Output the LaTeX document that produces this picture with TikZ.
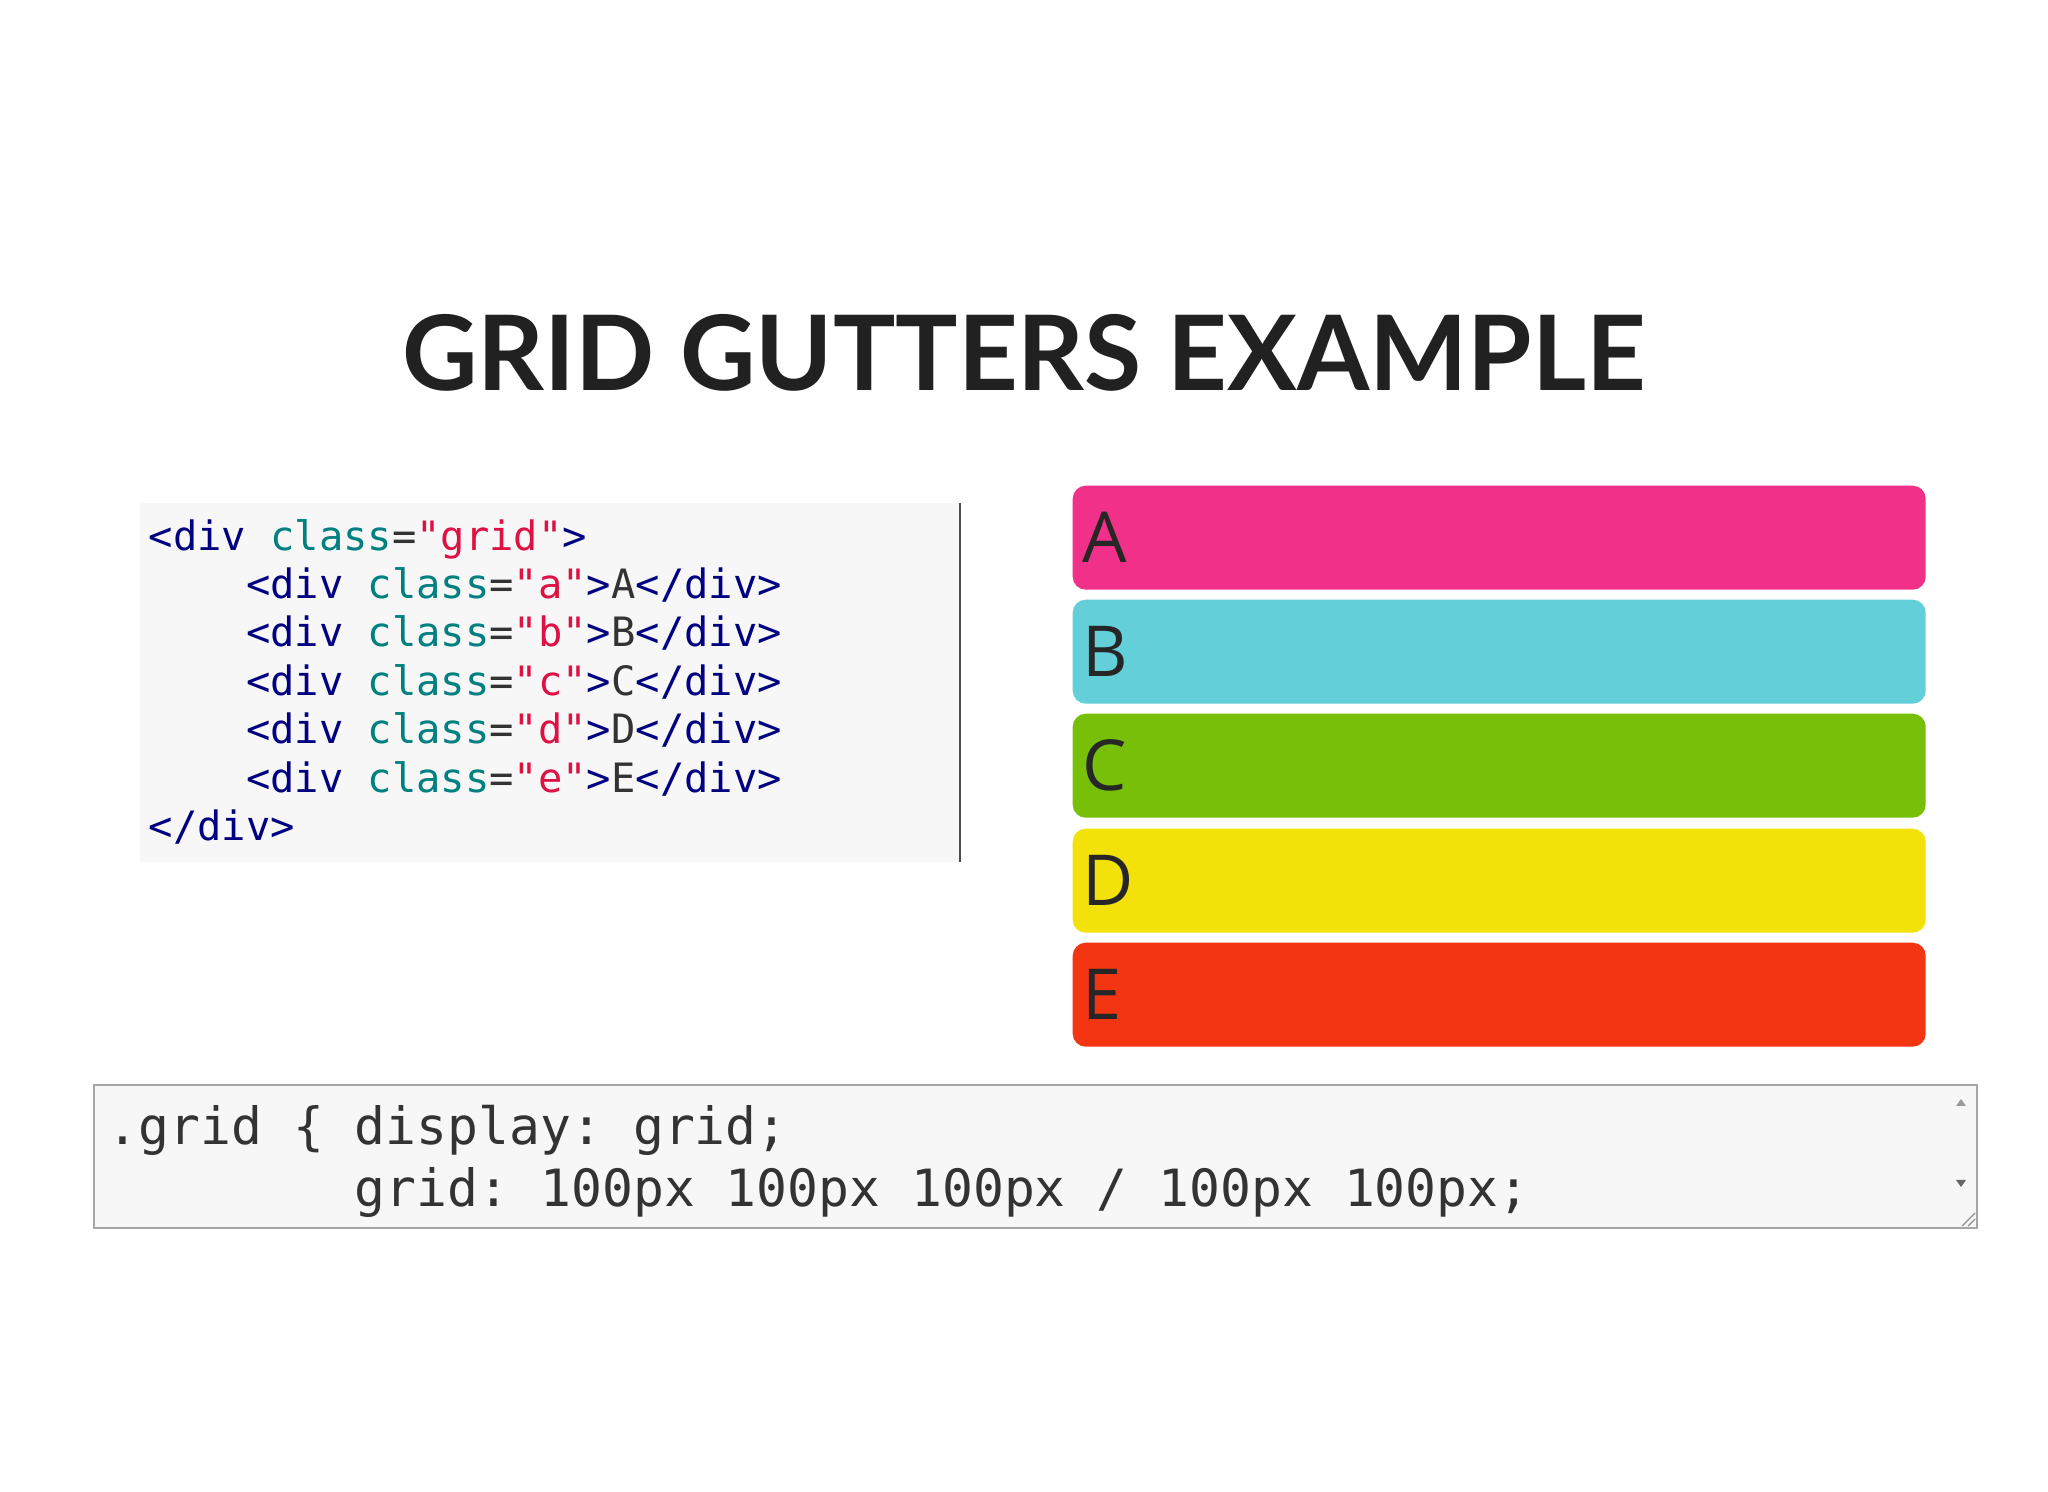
\documentclass[tikz,border=0pt]{standalone}
\usepackage{fontspec}
\setmainfont{Open Sans}
\setmonofont{DejaVu Sans Mono}
\newfontfamily\titlefont{Lato}
\definecolor{tagc}{HTML}{000080}
\definecolor{attc}{HTML}{008080}
\definecolor{strc}{HTML}{DD1144}
\definecolor{txtc}{HTML}{333333}
\definecolor{codebg}{HTML}{F7F7F7}
\definecolor{cA}{HTML}{F03089}
\definecolor{cB}{HTML}{63CFD8}
\definecolor{cC}{HTML}{78BF09}
\definecolor{cD}{HTML}{F2E20A}
\definecolor{cE}{HTML}{F43512}
\newcommand{\Tg}[1]{\textcolor{tagc}{#1}}
\newcommand{\At}[1]{\textcolor{attc}{#1}}
\newcommand{\St}[1]{\textcolor{strc}{#1}}
\begin{document}
\begin{tikzpicture}[x=0.01cm,y=-0.01cm,
  codeline/.style={anchor=base west,inner sep=0,font=\ttfamily\fontsize{11.5pt}{13pt}\selectfont,text=txtc},
  bar/.style={rounded corners=13*0.01cm,draw=none,minimum width=853*0.01cm,minimum height=104*0.01cm,anchor=north west,inner sep=0},
  barlab/.style={anchor=west,inner sep=0,font=\fontsize{20pt}{24pt}\selectfont,text=black!85},
  css/.style={anchor=base west,inner sep=0,font=\ttfamily\fontsize{14.6pt}{16pt}\selectfont,text=txtc}]
\useasboundingbox[fill=white] (0,0) rectangle (2048,1492);
\node[inner sep=0] (title) at (1024,353) {\resizebox{12.43cm}{!}{\fontsize{35pt}{40pt}\selectfont\titlefont\bfseries\color{black!87}GRID GUTTERS EXAMPLE}};
% html code box
\fill[codebg] (140,503) rectangle (960,862);
\draw[black!70,line width=0.6pt] (960,503) -- (960,862);
\node[codeline] (l1) at (148,551) {\Tg{<div} \At{class}=\St{"grid"}\Tg{>}};
\node[codeline] (l2) at (148,599) {\phantom{xxxx}\Tg{<div} \At{class}=\St{"a"}\Tg{>}A\Tg{</div>}};
\node[codeline] (l3) at (148,647) {\phantom{xxxx}\Tg{<div} \At{class}=\St{"b"}\Tg{>}B\Tg{</div>}};
\node[codeline] (l4) at (148,696) {\phantom{xxxx}\Tg{<div} \At{class}=\St{"c"}\Tg{>}C\Tg{</div>}};
\node[codeline] (l5) at (148,744) {\phantom{xxxx}\Tg{<div} \At{class}=\St{"d"}\Tg{>}D\Tg{</div>}};
\node[codeline] (l6) at (148,793) {\phantom{xxxx}\Tg{<div} \At{class}=\St{"e"}\Tg{>}E\Tg{</div>}};
\node[codeline] (l7) at (148,841) {\Tg{</div>}};
% bars
\node[bar,fill=cA] (bA) at (1072,485) {};
\node[bar,fill=cB] (bB) at (1072,599) {};
\node[bar,fill=cC] (bC) at (1072,713) {};
\node[bar,fill=cD] (bD) at (1072,828) {};
\node[bar,fill=cE] (bE) at (1072,942) {};
\node[barlab] (tA) at (1082,537) {A};
\node[barlab] (tB) at (1082,651) {B};
\node[barlab] (tC) at (1082,765) {C};
\node[barlab] (tD) at (1082,880) {D};
\node[barlab] (tE) at (1082,994) {E};
% css textarea
\fill[codebg] (94,1085) rectangle (1977,1228);
\fill[black!3] (1950,1087) rectangle (1975,1200);
\draw[black!35,line width=0.7pt] (94,1085) rectangle (1977,1228);
\fill[black!40] (1956,1106) -- (1966,1106) -- (1961,1099) -- cycle;
\fill[black!60] (1956,1180) -- (1966,1180) -- (1961,1187) -- cycle;
\draw[black!40,line width=0.4pt] (1962,1226) -- (1975,1213) (1968,1226) -- (1975,1219);
\node[css] (c1) at (107,1145) {.grid \{ display: grid;};
\node[css] (c2) at (107,1206) {\phantom{xxxxxxxx}grid: 100px 100px 100px / 100px 100px;};
\end{tikzpicture}
\end{document}
